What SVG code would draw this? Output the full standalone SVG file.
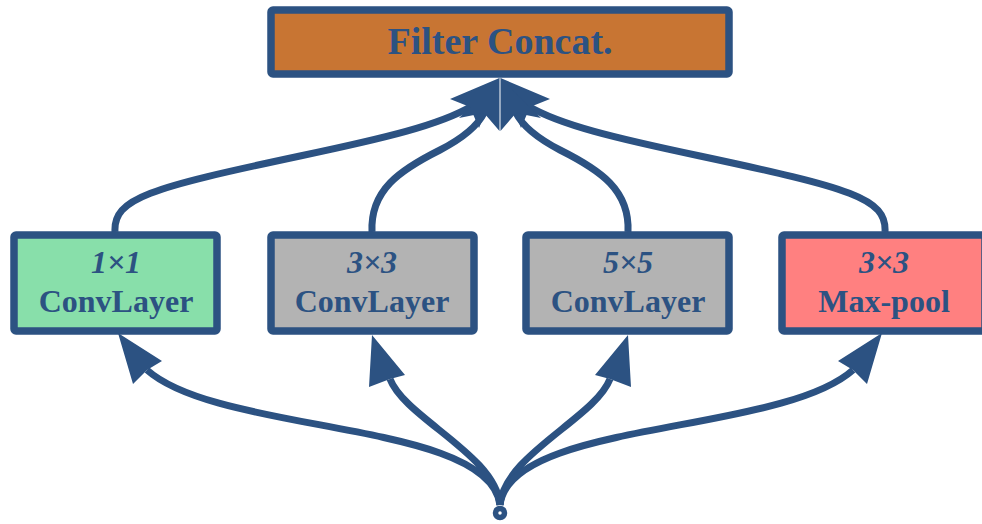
<svg xmlns="http://www.w3.org/2000/svg" width="982" height="524" viewBox="0 0 982 524">
<style>
.box{stroke:#2c5282;stroke-width:7.5;stroke-linejoin:round}
.t{font-family:"Liberation Serif","DejaVu Serif",serif;font-weight:bold;fill:#2c5282;text-anchor:middle}
.n{font-size:32px}
.i{font-size:32px;font-style:italic}
.c{fill:none;stroke:#2c5282;stroke-width:7;stroke-linecap:butt}
.h{fill:#2c5282;stroke:none}
</style>
<rect width="982" height="524" fill="#fff"/>
<g id="connectors">
  <!-- top connectors -->
  <path class="c" d="M115,232 C113,198 150,188 300,156 C385,138 440,125 472,106"/>
  <path class="c" d="M372,232 C370,190 400,170 440,150 C465,137 478,125 484,113"/>
  <path class="c" d="M628,232 C630,190 600,170 560,150 C535,137 522,125 516,113"/>
  <path class="c" d="M885,232 C887,198 850,188 700,156 C615,138 560,125 528,106"/>
  <polygon class="h" points="499.5,78 450,99 470,107 479,128"/>
  <polygon class="h" points="499.5,78 459,118 484,113 499.5,131"/>
  <polygon class="h" points="500.5,78 550,99 530,107 521,128"/>
  <polygon class="h" points="500.5,78 541,118 516,113 500.5,131"/>
  <!-- bottom connectors -->
  <path class="c" stroke-width="6.5" d="M500,505 C490,420 220,435 147,370"/>
  <path class="c" stroke-width="6.5" d="M500,505 C496,455 405,418 390,379"/>
  <path class="c" stroke-width="6.5" d="M500,505 C504,455 595,418 610,379"/>
  <path class="c" stroke-width="6.5" d="M500,505 C510,420 780,435 853,370"/>
  <polygon class="h" points="118,333 162,361 147,370 133,384"/>
  <polygon class="h" points="372,335 405,375 390,379 369,387"/>
  <polygon class="h" points="628,335 595,375 610,379 631,387"/>
  <polygon class="h" points="882,333 838,361 853,370 867,384"/>
  <circle cx="500" cy="513" r="4.5" fill="#fff" stroke="#2c5282" stroke-width="5.5"/>
</g>
<g id="concat">
  <rect class="box" x="271" y="10" width="458" height="64" rx="2" fill="#c87533"/>
  <text class="t" x="500" y="54" font-size="38">Filter Concat.</text>
</g>
<g id="conv1">
  <rect class="box" x="14" y="235" width="203" height="96" rx="2" fill="#88dfaa"/>
  <text class="t i" x="116" y="273">1×1</text>
  <text class="t n" x="116" y="312">ConvLayer</text>
</g>
<g id="conv3">
  <rect class="box" x="271" y="235" width="203" height="96" rx="2" fill="#b3b3b3"/>
  <text class="t i" x="372" y="273">3×3</text>
  <text class="t n" x="372" y="312">ConvLayer</text>
</g>
<g id="conv5">
  <rect class="box" x="526" y="235" width="203" height="96" rx="2" fill="#b3b3b3"/>
  <text class="t i" x="628" y="273">5×5</text>
  <text class="t n" x="628" y="312">ConvLayer</text>
</g>
<g id="maxpool">
  <rect class="box" x="782" y="235" width="203" height="96" rx="2" fill="#ff8080"/>
  <text class="t i" x="884" y="273">3×3</text>
  <text class="t n" x="884" y="312">Max-pool</text>
</g>
</svg>
